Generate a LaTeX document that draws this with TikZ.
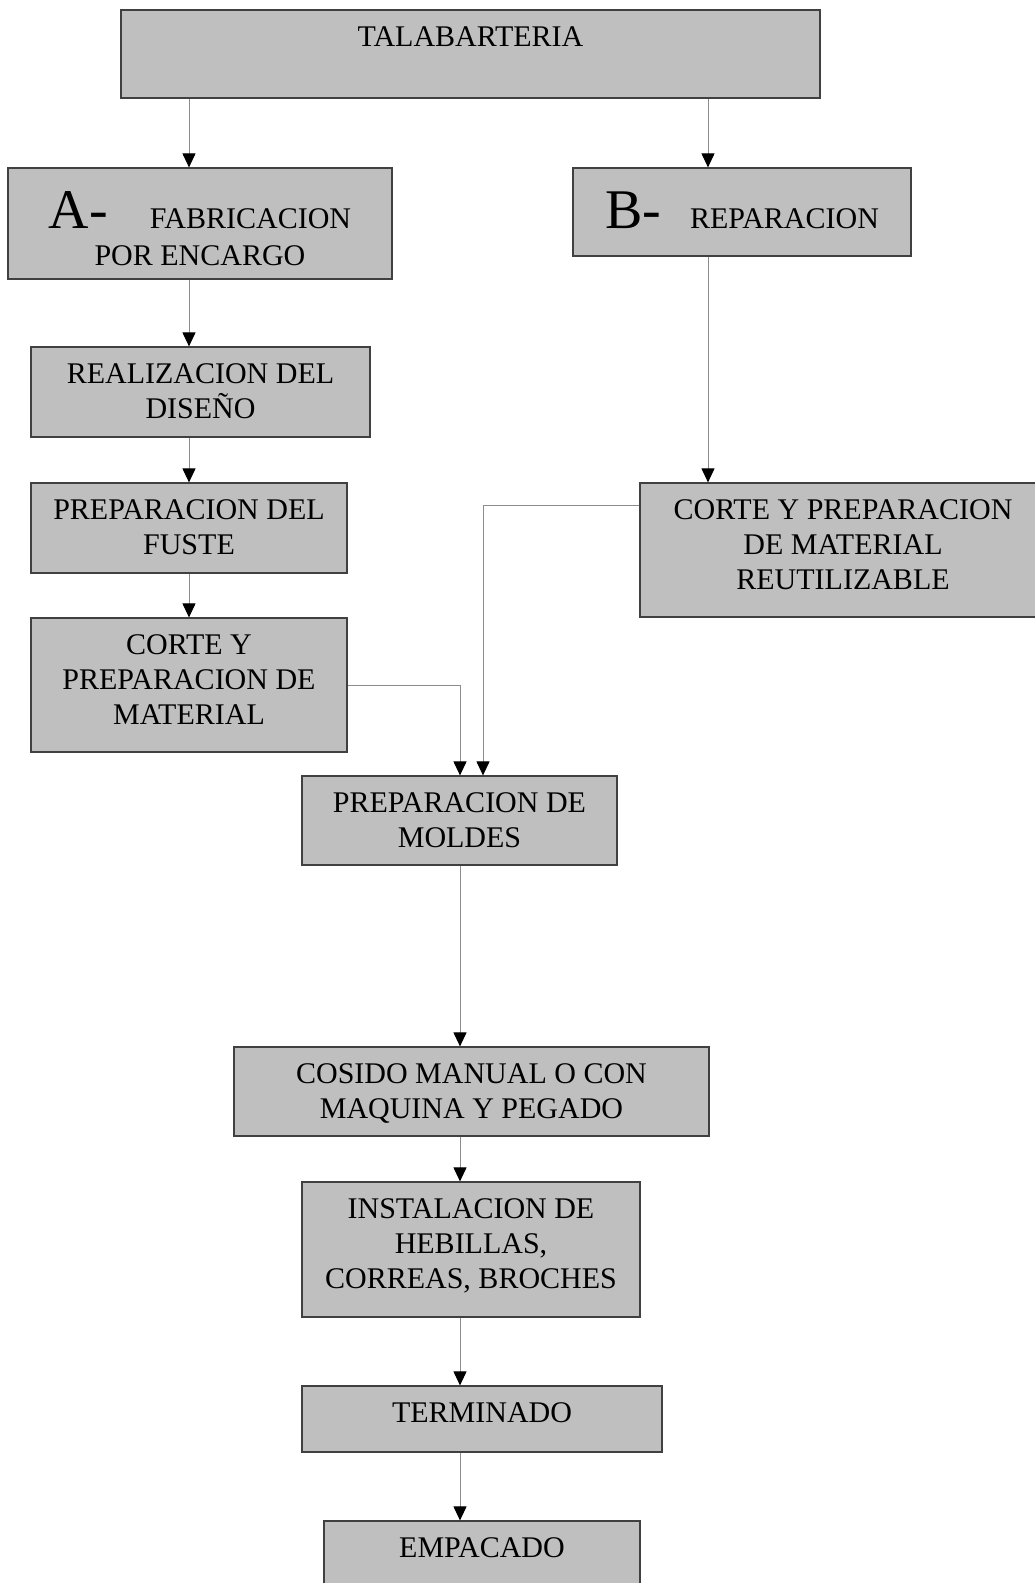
\documentclass[tikz,border=0pt]{standalone}
\usepackage{fontspec}
\setmainfont{Liberation Serif}
\usetikzlibrary{arrows.meta, positioning}
\definecolor{mygray}{rgb}{0.75,0.75,0.75}
\definecolor{myline}{rgb}{0.55,0.55,0.55}

\begin{document}
\begin{tikzpicture}[x=1pt, y=-1pt]
\tikzset{BoxStyle/.style =
    {draw=black!75, line width=1.2pt, fill=mygray, shape=rectangle, inner sep=0pt}
}
\tikzset{TextStyle/.style = {inner sep=0pt, align=center, font=\fontsize{30}{35}\selectfont}}
\tikzset{EdgeStyle/.style = {myline, line width=1pt, -{Triangle[width=13pt, length=14pt, color=black]}}}
\useasboundingbox (0,0) rectangle (1034,1583);
% boxes: name/centre x/centre y/width/height
\foreach \name/\cx/\cy/\w/\h in {tala/470.5/54/699/88, boxA/200/223.5/384/111,
    boxB/742/212/338/88, real/200.5/392/339/90, fuste/189/528/316/90,
    corte/189/685/316/134, reut/846/550/412/134, moldes/459.5/820.5/315/89,
    cosido/471.5/1091.5/475/89, inst/471/1249.5/338/135, term/482/1419/360/66,
    emp/482/1560/316/78}
    \node[BoxStyle, minimum width=\w pt, minimum height=\h pt] (\name) at (\cx,\cy) {};
% texts
\node[TextStyle, below=17pt of tala.north] (tala-txt) {TALABARTERIA};
\node[TextStyle, below=24pt of boxA.north] (boxA-txt)
    {{\fontsize{56}{60}\selectfont A-}\hspace{42pt}FABRICACION\\[2pt] POR ENCARGO};
\node[TextStyle, below=24pt of boxB.north] (boxB-txt)
    {{\fontsize{56}{60}\selectfont B-}\hspace{29pt}REPARACION};
\node[TextStyle, below=17pt of real.north] (real-txt) {REALIZACION DEL\\ DISEÑO};
\node[TextStyle, below=17pt of fuste.north] (fuste-txt) {PREPARACION DEL\\ FUSTE};
\node[TextStyle, below=17pt of corte.north] (corte-txt) {CORTE Y\\ PREPARACION DE\\ MATERIAL};
\node[TextStyle, below=17pt of reut.north, xshift=-3pt] (reut-txt) {CORTE Y PREPARACION\\ DE MATERIAL\\ REUTILIZABLE};
\node[TextStyle, below=17pt of moldes.north] (moldes-txt) {PREPARACION DE\\ MOLDES};
\node[TextStyle, below=17pt of cosido.north] (cosido-txt) {COSIDO MANUAL O CON\\ MAQUINA Y PEGADO};
\node[TextStyle, below=17pt of inst.north] (inst-txt) {INSTALACION DE\\ HEBILLAS,\\ CORREAS, BROCHES};
\node[TextStyle, below=17pt of term.north] (term-txt) {TERMINADO};
\node[TextStyle, below=17pt of emp.north] (emp-txt) {EMPACADO};
% columns of the connectors
\coordinate (colA) at (189,0);
\coordinate (colB) at (708,0);
\coordinate (colM) at (460,0);
\coordinate (colR) at (483,0);
\coordinate (rowR) at (0,505);
\draw[EdgeStyle] (tala.south -| colA) -- (boxA.north -| colA);
\draw[EdgeStyle] (tala.south -| colB) -- (boxB.north -| colB);
\draw[EdgeStyle] (boxA.south -| colA) -- (real.north -| colA);
\draw[EdgeStyle] (real.south -| colA) -- (fuste.north -| colA);
\draw[EdgeStyle] (fuste.south -| colA) -- (corte.north -| colA);
\draw[EdgeStyle] (boxB.south -| colB) -- (reut.north -| colB);
\draw[EdgeStyle] (corte.east) -| (moldes.north -| colM);
\draw[EdgeStyle] (reut.west |- rowR) -| (moldes.north -| colR);
\draw[EdgeStyle] (moldes.south -| colM) -- (cosido.north -| colM);
\draw[EdgeStyle] (cosido.south -| colM) -- (inst.north -| colM);
\draw[EdgeStyle] (inst.south -| colM) -- (term.north -| colM);
\draw[EdgeStyle] (term.south -| colM) -- (emp.north -| colM);
\end{tikzpicture}
\end{document}
